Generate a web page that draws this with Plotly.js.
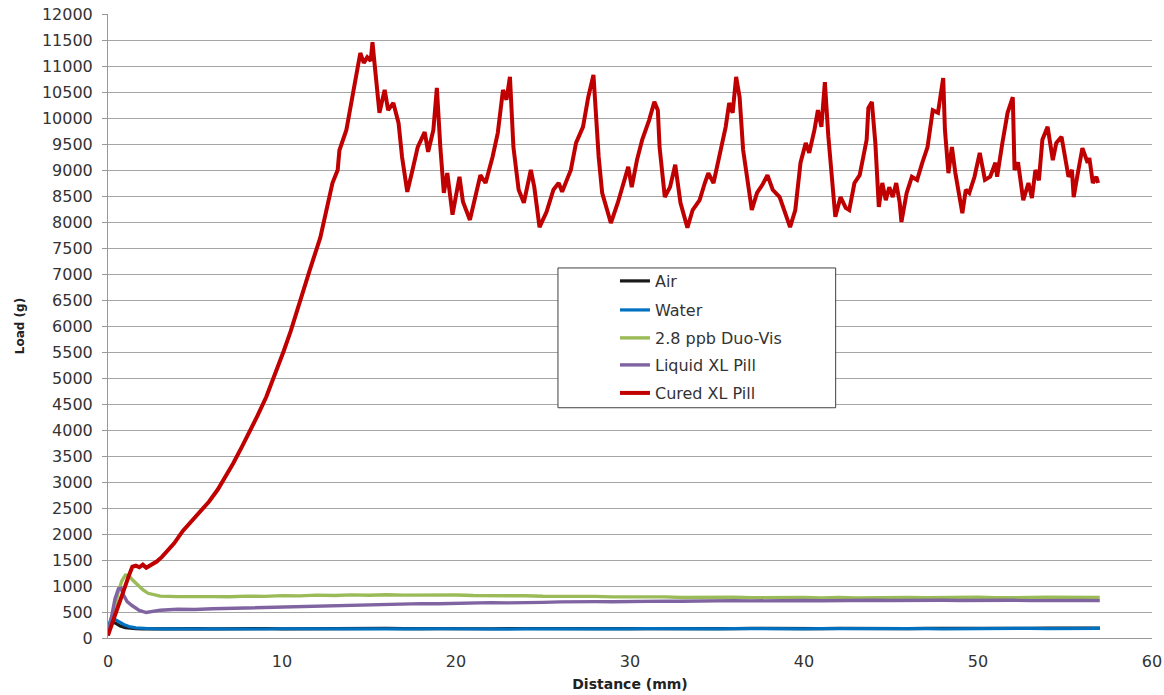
<!DOCTYPE html>
<html>
<head>
<meta charset="utf-8">
<script src="https://cdn.plot.ly/plotly-3.0.1.min.js"></script>
<style>
html,body{margin:0;padding:0;background:#fff;}
#chart{width:1164px;height:695px;}
</style>
</head>
<body>
<div id="chart"></div>
<script>
// ---- data ----
const seriesNames = ["Air", "Water", "2.8 ppb Duo-Vis", "Liquid XL Pill", "Cured XL Pill"];

// shared tail distances (mm) for the flat series
const tailDist = [3,4,5,6,7,8,9,10,11,12,13,14,15,16,17,18,19,20,21,22,23,24,25,26,27,28,29,30,
  31,32,33,34,35,36,37,38,39,40,41,42,43,44,45,46,47,48,49,50,51,52,53,54,55,56,57];

const airHeadDist = [0,0.1,0.2,0.3,0.5,0.7,1.0,1.3,1.6,2.0,2.5];
const airHeadLoad = [50,250,320,310,270,230,200,185,180,176,178];
const airTailLoad = [180,178,182,176,181,179,183,177,180,182,178,181,179,184,180,177,182,179,181,178,
  183,180,176,181,179,182,180,178,183,181,179,185,182,180,184,181,186,183,180,185,182,187,184,181,186,
  183,188,185,182,187,184,189,186,190,188];

const waterHeadDist = [0,0.1,0.2,0.35,0.6,0.9,1.2,1.6,2.0,2.5];
const waterHeadLoad = [50,300,395,370,320,260,220,195,182,178];
const waterTailLoad = [176,174,178,172,177,175,173,178,174,176,172,177,175,171,176,174,178,173,175,177,
  172,176,174,178,175,173,177,175,179,176,174,178,176,180,177,175,179,177,181,178,176,180,178,182,179,
  177,181,179,183,180,185,182,187,184,186];

const duoHeadDist = [0,0.2,0.4,0.6,0.8,1.0,1.2,1.4,1.7,2.0,2.3,2.7];
const duoHeadLoad = [50,300,600,900,1100,1210,1200,1120,1020,930,860,820];
const duoTailLoad = [805,795,788,796,792,805,800,815,810,825,818,830,822,832,824,830,822,826,816,820,
  810,812,802,806,796,800,790,794,784,790,780,786,776,784,775,782,774,780,772,780,770,778,772,780,774,
  782,775,784,776,785,778,786,780,788,782];

const liqHeadDist = [0,0.2,0.4,0.6,0.75,0.9,1.1,1.4,1.8,2.2,2.6];
const liqHeadLoad = [50,400,750,950,960,820,700,620,530,490,510];
const liqTailLoad = [535,552,548,562,570,580,590,605,600,618,625,636,642,650,655,662,660,672,668,680,
  676,688,685,695,690,700,697,706,702,710,707,714,710,718,713,720,715,722,717,724,718,725,720,726,721,
  727,722,726,720,725,719,724,718,722,718];

const curedDist = [0,0.2,0.4,0.6,0.8,1.0,1.2,1.4,1.6,1.8,2.0,2.2,2.5,2.8,3.1,3.4,3.8,4.3,4.8,5.3,5.8,
  6.3,6.8,7.2,7.7,8.2,8.6,9.1,9.6,10.1,10.5,11.0,11.6,12.2,12.6,12.9,13.2,13.3,13.7,13.9,14.1,14.5,
  14.7,14.9,15.1,15.2,15.3,15.4,15.6,15.9,16.1,16.4,16.7,16.9,17.2,17.5,17.8,18.2,18.4,18.7,18.9,
  19.1,19.3,19.5,19.8,20.2,20.4,20.8,21.4,21.7,22.1,22.4,22.7,22.9,23.1,23.3,23.6,23.9,24.3,24.5,
  24.8,25.2,25.6,25.9,26.1,26.6,26.9,27.3,27.6,27.9,28.2,28.4,28.9,29.3,29.6,29.9,30.1,30.4,30.7,
  31.1,31.4,31.6,31.7,32.0,32.3,32.6,32.9,33.3,33.6,34.0,34.3,34.5,34.8,35.2,35.5,35.7,35.9,36.1,
  36.3,36.5,36.8,37.0,37.3,37.6,37.9,38.2,38.6,38.9,39.2,39.5,39.8,40.1,40.3,40.6,40.8,41.0,41.2,
  41.4,41.6,41.8,42.1,42.4,42.6,42.9,43.2,43.6,43.7,43.9,44.1,44.3,44.5,44.7,44.9,45.1,45.3,45.5,
  45.6,45.9,46.2,46.5,46.8,47.1,47.4,47.7,48.0,48.1,48.3,48.5,48.7,49.1,49.3,49.5,49.8,50.1,50.4,
  50.7,51.0,51.1,51.4,51.7,52.0,52.1,52.3,52.6,52.9,53.1,53.3,53.5,53.7,54.0,54.3,54.5,54.8,55.0,
  55.2,55.4,55.5,55.7,56.0,56.3,56.4,56.6,56.8,56.9];
const curedLoad = [50,250,450,620,800,1000,1200,1370,1390,1360,1410,1350,1400,1470,1560,1680,1820,2060,
  2250,2420,2620,2850,3120,3360,3680,4000,4280,4640,5060,5520,5900,6450,7080,7700,8290,8750,9000,9380,
  9770,10150,10540,11250,11060,11170,11100,11460,11110,10790,10100,10540,10150,10290,9900,9250,8580,
  9000,9440,9730,9350,9770,10580,9440,8560,8940,8140,8870,8390,8040,8900,8750,9250,9710,10540,10350,
  10790,9440,8620,8370,9000,8670,7900,8190,8620,8750,8580,9000,9520,9830,10400,10830,9250,8560,7980,
  8370,8750,9060,8670,9190,9580,9960,10310,10150,9440,8480,8670,9100,8370,7890,8230,8420,8750,8940,
  8750,9390,9830,10290,10100,10790,10400,9390,8750,8230,8560,8710,8900,8620,8480,8190,7900,8230,9140,
  9520,9330,9770,10150,9830,10690,9640,8810,8100,8480,8270,8230,8750,8900,9580,10190,10310,9520,8290,
  8750,8420,8670,8480,8750,8370,8000,8560,8870,8810,9140,9440,10150,10100,10770,9770,8940,9440,8940,
  8170,8620,8560,8870,9330,8810,8870,9140,8870,9520,10100,10400,9000,9150,8420,8750,8460,9000,8800,
  9580,9830,9190,9520,9640,9250,8870,9000,8480,8870,9420,9140,9230,8750,8870,8750];

const xTicks = [0,10,20,30,40,50,60];
const yTicks = [0,500,1000,1500,2000,2500,3000,3500,4000,4500,5000,5500,6000,6500,7000,7500,8000,
  8500,9000,9500,10000,10500,11000,11500,12000];

// ---- build traces ----
const colors = ["#1a1a1a", "#0070C0", "#9BBB59", "#8064A2", "#C00000"];
const widths = [3.2, 3.2, 3.4, 3.4, 4];
const xs = [airHeadDist.concat(tailDist), waterHeadDist.concat(tailDist), duoHeadDist.concat(tailDist),
            liqHeadDist.concat(tailDist), curedDist];
const ys = [airHeadLoad.concat(airTailLoad), waterHeadLoad.concat(waterTailLoad),
            duoHeadLoad.concat(duoTailLoad), liqHeadLoad.concat(liqTailLoad), curedLoad];

const legendIds = ["legend", "legend2", "legend3", "legend4", "legend5"];
const traces = seriesNames.map((n, i) => ({
  type: "scatter", mode: "lines", name: n, x: xs[i], y: ys[i],
  legend: legendIds[i],
  line: {color: colors[i], width: widths[i]}
}));

const FONT = "DejaVu Sans, Verdana, sans-serif";

const layout = {
  width: 1164, height: 695,
  margin: {l: 108, r: 12, t: 14, b: 57},
  paper_bgcolor: "#ffffff", plot_bgcolor: "#ffffff",
  font: {family: FONT, size: 14, color: "#333333"},
  showlegend: true,
  xaxis: {
    range: [0, 60], tickvals: xTicks, ticktext: xTicks.map(String),
    showgrid: false, zeroline: false,
    showline: true, linecolor: "#999999", linewidth: 1,
    ticks: "", ticklabelstandoff: 9,
    tickfont: {family: FONT, size: 16, color: "#333333"},
    title: {text: "<b>Distance (mm)</b>", font: {family: FONT, size: 14, color: "#222222"}, standoff: 8}
  },
  yaxis: {
    range: [0, 12000], tickvals: yTicks, ticktext: yTicks.map(String),
    showgrid: true, gridcolor: "#a6a6a6", gridwidth: 1, zeroline: false,
    showline: true, linecolor: "#999999", linewidth: 1,
    ticks: "outside", ticklen: 5, tickcolor: "#999999", ticklabelstandoff: 6,
    tickfont: {family: FONT, size: 16, color: "#333333"},
    title: {text: "<b>Load (g)</b>", font: {family: FONT, size: 12, color: "#222222"}, standoff: 14}
  },
  shapes: [{
    type: "rect", xref: "paper", yref: "paper", layer: "above",
    x0: 0.431, x1: 0.697, y0: 0.369, y1: 0.593,
    line: {color: "#404040", width: 1}, fillcolor: "#ffffff"
  }]
};

// one legend per entry so the row spacing can match the reference box
const legendY = [0.5721, 0.5256, 0.4808, 0.4375, 0.3926];
legendIds.forEach((id, i) => {
  layout[id] = {
    x: 0.4856, y: legendY[i], xanchor: "left", yanchor: "middle",
    bgcolor: "rgba(0,0,0,0)", borderwidth: 0,
    font: {family: FONT, size: 16, color: "#333333"}
  };
});

Plotly.newPlot("chart", traces, layout, {displayModeBar: false, staticPlot: true});
</script>
</body>
</html>
